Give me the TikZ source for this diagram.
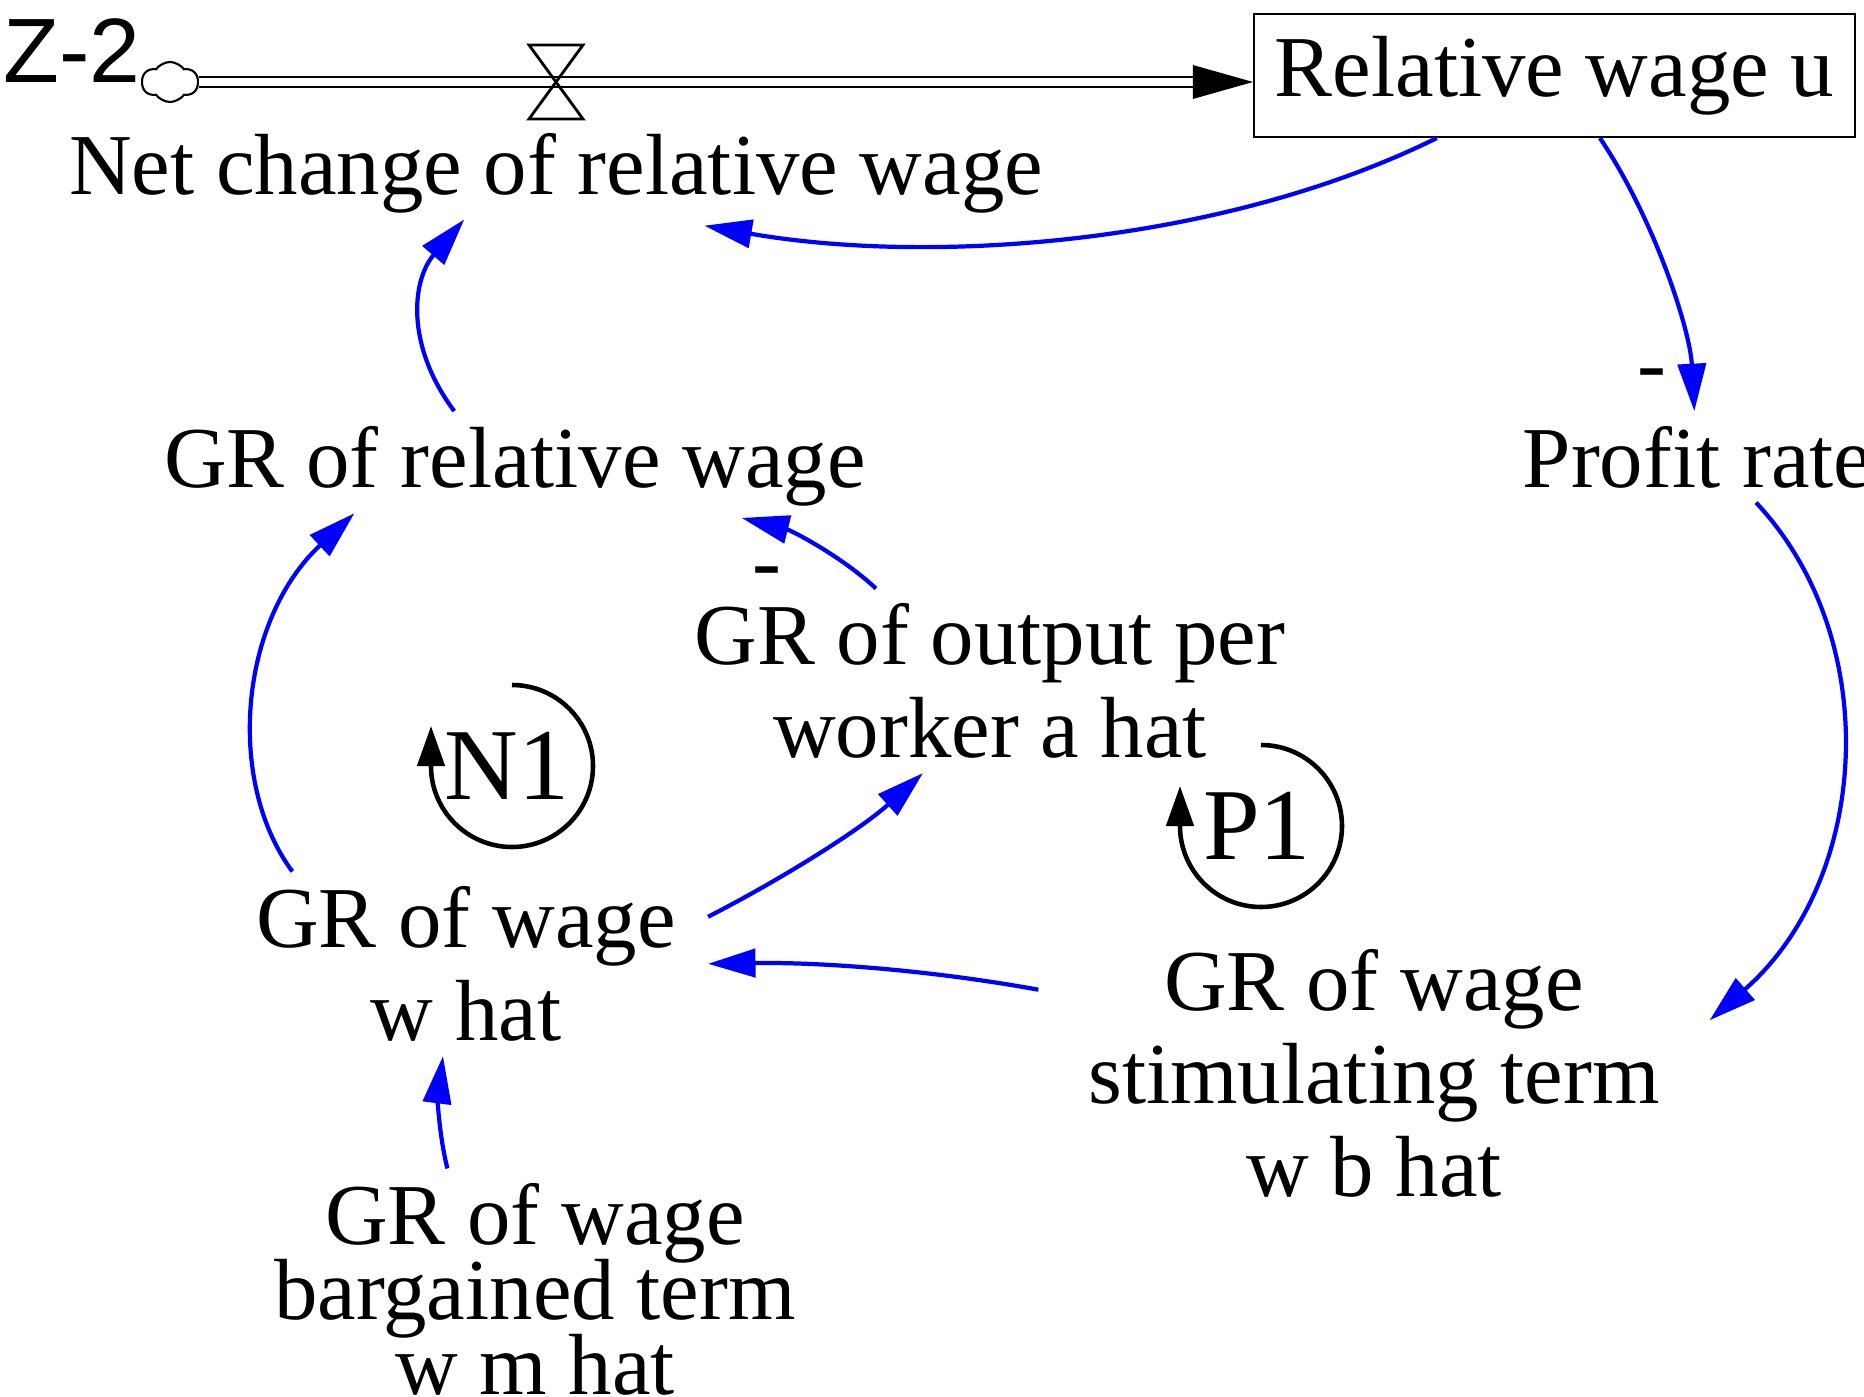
\documentclass[tikz,border=0pt]{standalone}
\usepackage{fontspec}
\setmainfont{Liberation Serif}
\newfontfamily\zsans{Liberation Sans}
\usetikzlibrary{arrows.meta, shapes.symbols}

\begin{document}
\begin{tikzpicture}[
    var/.style={
        font=\fontsize{24.7}{26.5}\selectfont, align=center, inner sep=4pt
    },
    tightvar/.style={
        var, font={\fontsize{24.7}{21.3}\selectfont\lineskiplimit=-20pt}
    },
    stock/.style={
        rectangle, draw=black, line width=0.6pt,
        minimum width=6.01cm, minimum height=1.23cm, inner sep=0pt,
        font=\fontsize{24.7}{26.5}\selectfont
    },
    sign/.style={font=\fontsize{24.7}{26.5}\selectfont, inner sep=0pt},
    looplbl/.style={font=\fontsize{29}{30}\selectfont, inner sep=0pt},
    srccloud/.style={
        cloud, draw, line width=0.6pt,
        cloud puffs=6, cloud puff arc=110, aspect=1.4,
        minimum width=0.56cm, minimum height=0.40cm, inner sep=0pt
    },
    pipe/.style={double, double distance=2.4pt, line width=0.6pt},
    valveline/.style={line width=0.8pt, line join=miter},
    link/.style={blue, line width=1.2pt, -{Triangle[length=13.5pt, width=8pt]}},
    deep/.style={shorten >=-3pt},
    loopar/.style={line width=1.3pt, -{Triangle[length=11.4pt, width=7.7pt]}}
]
\useasboundingbox (0,0) rectangle (18.64,-13.97);

% ---------------- Stock and flow ----------------
\node[stock] (relu) at (15.545,-0.755) {Relative wage u};
\node[srccloud] (src) at (1.70,-0.82) {};
\node[font=\zsans\fontsize{26}{28}\selectfont, inner sep=0pt, anchor=base west] (zlab) at (0.03,-0.82) {Z-2};
\coordinate (valve) at (5.56,-0.82);

\draw[pipe, shorten >=0.5cm] (src.east) -- (src.east -| relu.west);
\fill (src.east -| relu.west) -- ++(-0.60,0.17) -- ++(0,-0.34) -- cycle;
\draw[valveline] (valve) -- ++(-0.27,0.37) -- ++(0.54,0) -- cycle;
\draw[valveline] (valve) -- ++(-0.27,-0.37) -- ++(0.54,0) -- cycle;

\node[var, anchor=base] (netchg) at (5.56,-1.94) {Net change of relative wage};

% ---------------- Variables ----------------
\node[var, anchor=base] (grrel) at (5.15,-4.87) {GR of relative wage};
\node[var, anchor=base west] (profit) at (15.08,-4.87) {Profit rate};
\node[var, anchor=north] (grout) at (9.90,-5.885) {GR of output per\\worker a hat};
\node[var, inner xsep=9pt, anchor=north] (grw) at (4.66,-8.715) {GR of wage\\w hat};
\node[var, inner xsep=14pt, anchor=north] (grwb) at (13.74,-9.345) {GR of wage\\stimulating term\\w b hat};
\node[tightvar, anchor=north] (grwm) at (5.35,-11.685) {GR of wage\\bargained term\\w m hat};

\node[sign, anchor=base] (minusprofit) at (16.52,-3.92) {-};
\node[sign, anchor=base] (minusout) at (7.67,-5.90) {-};

% ---------------- Loops ----------------
\node[looplbl] (n1) at (5.07,-7.66) {N1};
\coordinate (n1c) at (5.12,-7.66);
\draw[loopar] (n1c) ++(90:0.81) arc[start angle=90, end angle=-180, radius=0.81] -- ++(0,0.40);

\node[looplbl] (p1) at (12.57,-8.26) {P1};
\coordinate (p1c) at (12.61,-8.26);
\draw[loopar] (p1c) ++(90:0.81) arc[start angle=90, end angle=-180, radius=0.81] -- ++(0,0.40);

% ---------------- Links ----------------
\draw[link, deep] (relu.-152) .. controls (12.20,-2.45) and (9.30,-2.65) .. (netchg.-19);
\draw[link] (relu.-54) .. controls (16.55,-2.20) and (16.90,-3.30) .. (profit.94);
\draw[link] (profit.-38) .. controls (18.85,-6.40) and (18.70,-8.80) .. (grwb.9);
\draw[link] (grwb.166) .. controls (9.30,-9.70) and (8.20,-9.62) .. (grw.0);
\draw[link] (grw.11) .. controls (7.80,-8.80) and (8.60,-8.30) .. (grout.-126);
\draw[link, deep] (grout.141) .. controls (8.40,-5.55) and (7.90,-5.30) .. (grrel.-13);
\draw[link, deep] (grw.152) .. controls (2.25,-7.80) and (2.40,-6.20) .. (grrel.-162);
\draw[link, deep] (grrel.138) .. controls (4.05,-3.45) and (4.12,-2.80) .. (netchg.-151);
\draw[link] (grwm.126) .. controls (4.38,-11.30) and (4.38,-10.95) .. (grw.-104);

\end{tikzpicture}
\end{document}
